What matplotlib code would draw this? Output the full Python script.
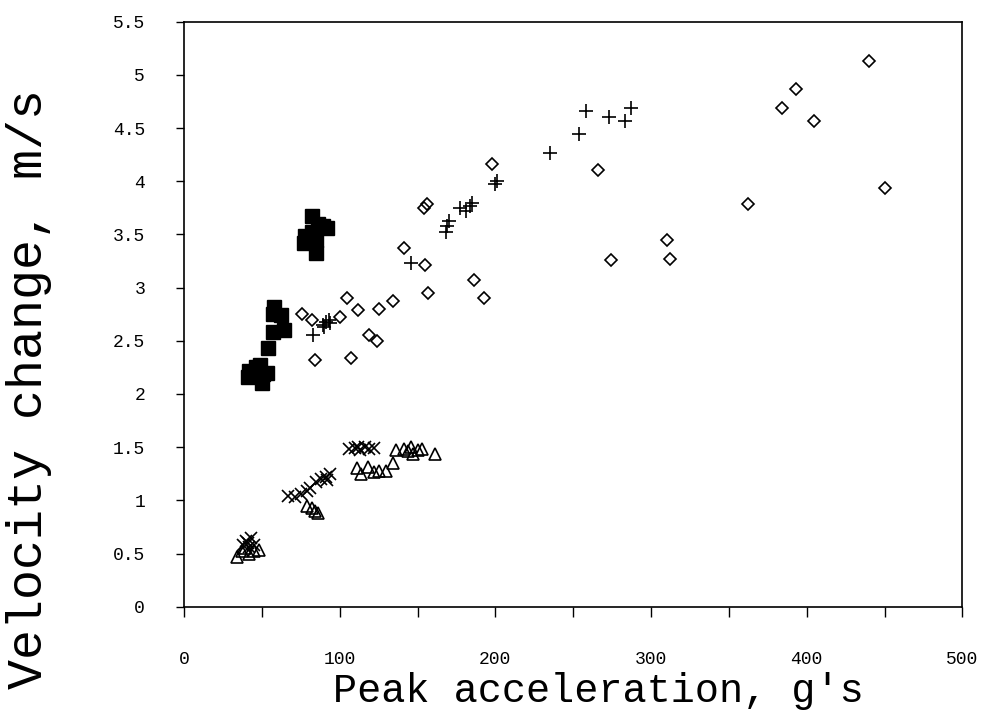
import matplotlib
matplotlib.use("Agg")
import matplotlib.pyplot as plt
from matplotlib.ticker import MultipleLocator

# filled squares
sq_x = [82, 86, 92, 78, 82, 77, 85, 85, 89, 58, 62, 57, 57, 64, 54, 42, 49, 51, 50, 41, 53, 46, 44]
sq_y = [3.67, 3.60, 3.56, 3.49, 3.52, 3.42, 3.45, 3.33, 3.58, 2.82, 2.74, 2.75, 2.58, 2.60,
        2.43, 2.22, 2.27, 2.19, 2.10, 2.16, 2.20, 2.25, 2.18]

# open diamonds
dia_x = [76, 82, 100, 105, 112, 125, 134, 119, 124, 107, 84, 155, 157, 186, 193, 141,
         154, 156, 198, 266, 274, 310, 312, 362, 384, 393, 405, 440, 450]
dia_y = [2.75, 2.70, 2.72, 2.90, 2.79, 2.80, 2.87, 2.55, 2.50, 2.34, 2.32, 3.21, 2.95, 3.07,
         2.90, 3.37, 3.75, 3.79, 4.16, 4.11, 3.26, 3.45, 3.27, 3.79, 4.69, 4.87, 4.57, 5.13, 3.94]

# plus signs
plus_x = [83, 89, 91, 93, 90, 94, 146, 168, 169, 170, 177, 181, 184, 185, 200, 201,
          235, 254, 258, 273, 283, 287]
plus_y = [2.55, 2.65, 2.68, 2.70, 2.63, 2.67, 3.23, 3.52, 3.58, 3.63, 3.75, 3.72, 3.77, 3.80,
          3.97, 4.00, 4.27, 4.44, 4.66, 4.60, 4.57, 4.69]

# crosses
crs_x = [106, 110, 113, 116, 119, 122, 112, 67, 71, 75, 79, 81, 85, 88, 91, 94, 92,
         40, 42, 38, 43, 41, 45]
crs_y = [1.48, 1.49, 1.47, 1.50, 1.48, 1.49, 1.50, 1.04, 1.03, 1.06, 1.09, 1.12, 1.17, 1.20,
         1.22, 1.25, 1.19, 0.62, 0.56, 0.58, 0.65, 0.60, 0.58]

# open triangles
tri_x = [136, 141, 146, 150, 153, 147, 161, 144, 111, 118, 114, 125, 130, 134, 122,
         79, 84, 86, 82, 34, 39, 45, 48, 42, 37]
tri_y = [1.47, 1.48, 1.50, 1.47, 1.48, 1.44, 1.44, 1.46, 1.30, 1.31, 1.25, 1.28, 1.28, 1.35,
         1.27, 0.95, 0.90, 0.88, 0.93, 0.47, 0.55, 0.52, 0.53, 0.50, 0.52]

x_ticks = [0, 100, 200, 300, 400, 500]
y_ticks = [0, 0.5, 1, 1.5, 2, 2.5, 3, 3.5, 4, 4.5, 5, 5.5]
y_tick_labels = ["0", "0.5", "1", "1.5", "2", "2.5", "3", "3.5", "4", "4.5", "5", "5.5"]

mono = "Liberation Mono"

fig = plt.figure(figsize=(9.84, 7.24), dpi=100)
ax = fig.add_axes([0.187, 0.162, 0.791, 0.808])

ax.plot(sq_x, sq_y, ls="none", marker="s", ms=10, mfc="black", mec="black")
ax.plot(dia_x, dia_y, ls="none", marker="D", ms=6.5, mfc="none", mec="black", mew=1.2)
ax.plot(plus_x, plus_y, ls="none", marker="+", ms=10, mec="black", mew=1.2)
ax.plot(crs_x, crs_y, ls="none", marker="x", ms=9, mec="black", mew=1.2)
ax.plot(tri_x, tri_y, ls="none", marker="^", ms=9, mfc="none", mec="black", mew=1.2)

ax.set_xlim(0, 500)
ax.set_ylim(0, 5.5)
ax.set_xticks(x_ticks)
ax.xaxis.set_minor_locator(MultipleLocator(50))
ax.set_yticks(y_ticks)
ax.set_yticklabels(y_tick_labels)

ax.tick_params(axis="x", which="both", direction="out", length=7, width=1, pad=25,
               labelsize=13)
ax.tick_params(axis="y", direction="out", length=6, width=1, pad=22, labelsize=13)
for lab in ax.get_xticklabels() + ax.get_yticklabels():
    lab.set_family(mono)

for sp in ax.spines.values():
    sp.set_linewidth(1.2)

ax.set_xlabel("Peak acceleration, g\u2032s", family=mono, fontsize=29)
ax.xaxis.set_label_coords(0.533, -0.112)
ax.set_ylabel("Velocity change, m/s", family=mono, fontsize=36)
ax.yaxis.set_label_coords(-0.170, 0.372)

fig.savefig("out.png", dpi=100)
